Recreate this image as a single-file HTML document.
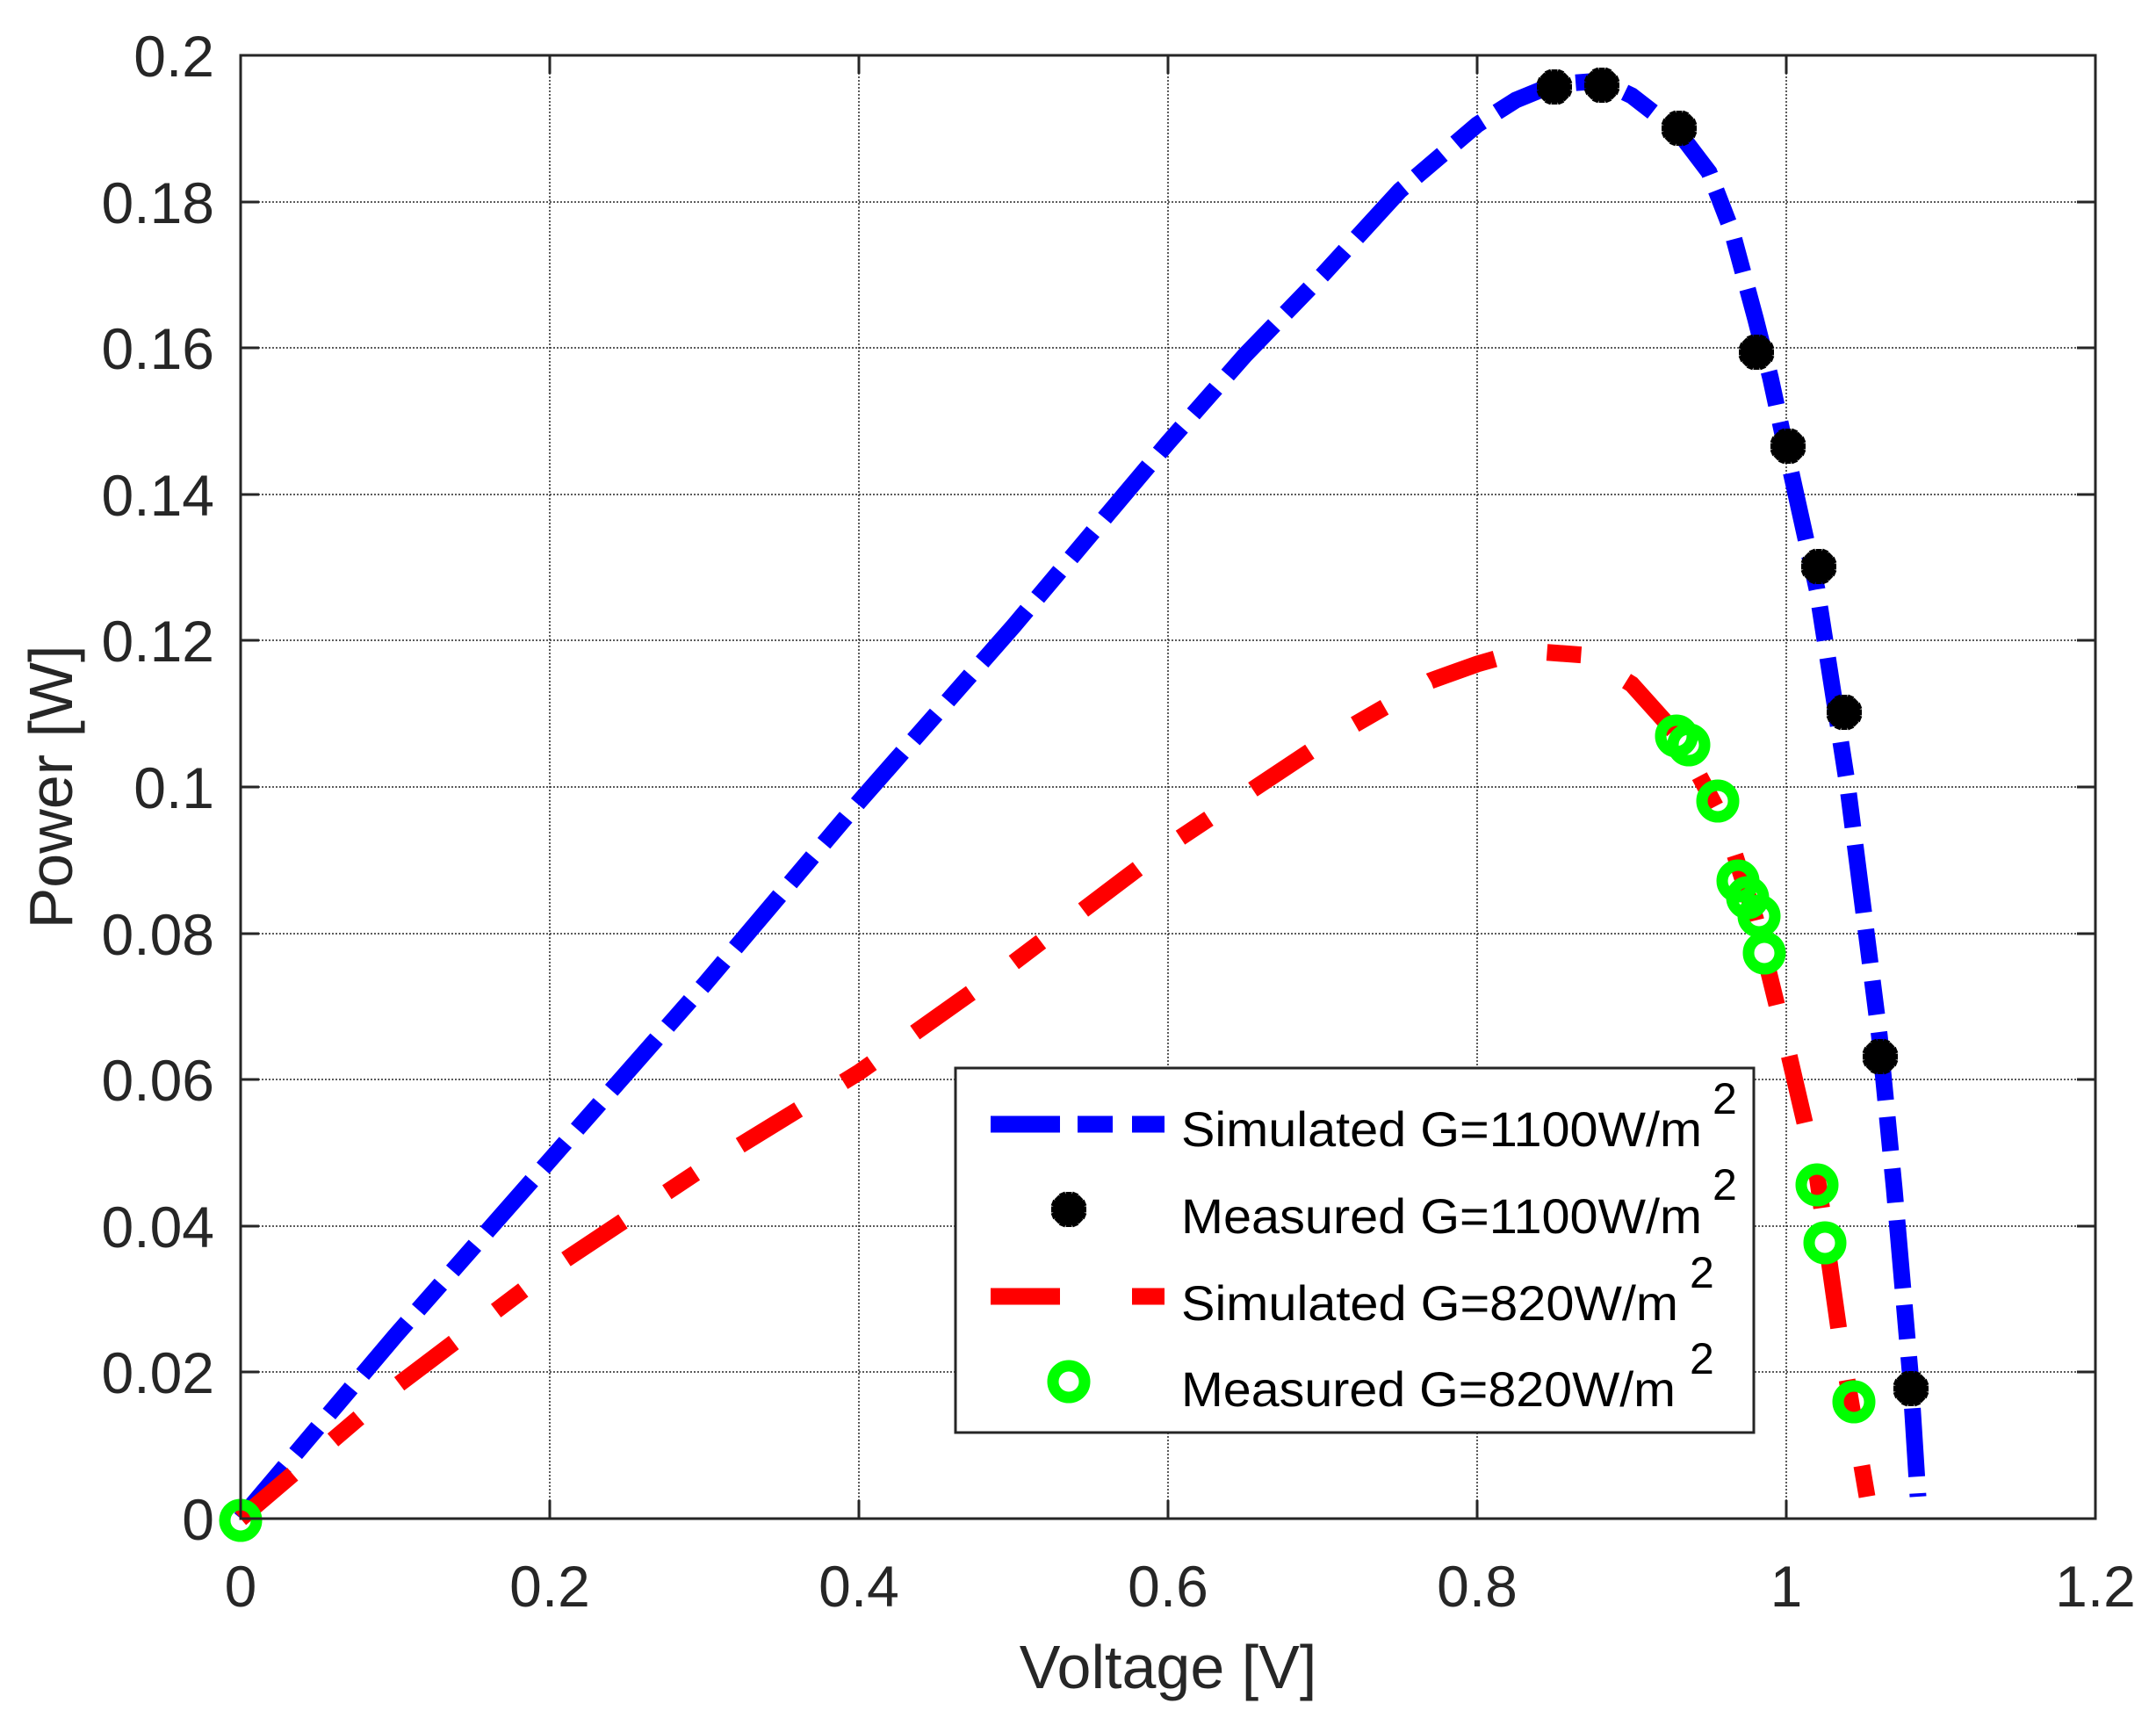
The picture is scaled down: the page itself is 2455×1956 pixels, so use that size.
<!DOCTYPE html>
<html><head><meta charset="utf-8"><style>
html,body{margin:0;padding:0;background:#fff}
svg{display:block}
text{font-family:"Liberation Sans",Arial,sans-serif;fill:#262626}
</style></head><body>
<svg width="2455" height="1956" viewBox="0 0 2455 1956" xmlns="http://www.w3.org/2000/svg">
<defs>
<g id="ast"><path d="M0,-20V20M-20,0H20M-14,-14L14,14M-14,14L14,-14M-8,-19L8,19M8,-19L-8,19M-19,-8L19,8M-19,8L19,-8" stroke="#000" stroke-width="7"/><circle r="12" fill="#000"/></g>
<circle id="gc" r="18" fill="none" stroke="#00ff00" stroke-width="13"/>
</defs>
<rect x="274" y="63" width="2112" height="1666" fill="#fff"/>
<g stroke="#262626" stroke-width="1.5" stroke-dasharray="2 2">
<path d="M626,63V1729M978,63V1729M1330,63V1729M1682,63V1729M2034,63V1729"/>
<path d="M274,230H2386M274,396H2386M274,563H2386M274,729H2386M274,896H2386M274,1063H2386M274,1229H2386M274,1396H2386M274,1562H2386"/>
</g>
<polyline fill="none" stroke="#0000ff" stroke-width="19" stroke-dasharray="78 19 39 20 39 20" points="274,1729 450,1521 626,1321 802,1121 978,913 1154,713 1330,504 1418,404 1506,313 1594,217 1682,142 1726,114 1770,96 1823,92 1858,109 1911,150 1946,196 1972,263 1999,363 2016,430 2034,513 2069,671 2104,896 2140,1179 2157,1354 2175,1562 2184,1704"/>
<polyline fill="none" stroke="#ff0000" stroke-width="19" stroke-dasharray="78 60 39 60" points="274,1729 450,1579 626,1446 802,1329 978,1221 1154,1096 1330,963 1506,846 1629,775 1682,756 1717,746 1752,742 1805,746 1858,779 1911,838 1964,938 1999,1046 2034,1188 2069,1338 2096,1529 2126,1704"/>
<use href="#ast" x="1770" y="99"/><use href="#ast" x="1824" y="97"/><use href="#ast" x="1912" y="146"/><use href="#ast" x="2000" y="401"/><use href="#ast" x="2036" y="508"/><use href="#ast" x="2071" y="645"/><use href="#ast" x="2100" y="811"/><use href="#ast" x="2141" y="1203"/><use href="#ast" x="2176" y="1581"/>
<use href="#gc" x="274" y="1731"/><use href="#gc" x="1909" y="838"/><use href="#gc" x="1923" y="848"/><use href="#gc" x="1956" y="912"/><use href="#gc" x="1979" y="1003"/><use href="#gc" x="1990" y="1022"/><use href="#gc" x="2003" y="1043"/><use href="#gc" x="2009" y="1085"/><use href="#gc" x="2069" y="1349"/><use href="#gc" x="2078" y="1415"/><use href="#gc" x="2111" y="1596"/>
<rect x="274" y="63" width="2112" height="1666" fill="none" stroke="#262626" stroke-width="3"/>
<g stroke="#262626" stroke-width="3">
<path d="M626,1729v-21M978,1729v-21M1330,1729v-21M1682,1729v-21M2034,1729v-21M626,63v21M978,63v21M1330,63v21M1682,63v21M2034,63v21"/>
<path d="M274,230h21M274,396h21M274,563h21M274,729h21M274,896h21M274,1063h21M274,1229h21M274,1396h21M274,1562h21M2386,230h-21M2386,396h-21M2386,563h-21M2386,729h-21M2386,896h-21M2386,1063h-21M2386,1229h-21M2386,1396h-21M2386,1562h-21"/>
</g>
<g font-size="66" text-anchor="middle">
<text x="274" y="1829">0</text><text x="626" y="1829">0.2</text><text x="978" y="1829">0.4</text><text x="1330" y="1829">0.6</text><text x="1682" y="1829">0.8</text><text x="2034" y="1829">1</text><text x="2386" y="1829">1.2</text>
</g>
<g font-size="66" text-anchor="end">
<text x="244" y="1753">0</text><text x="244" y="1586">0.02</text><text x="244" y="1420">0.04</text><text x="244" y="1253">0.06</text><text x="244" y="1087">0.08</text><text x="244" y="920">0.1</text><text x="244" y="753">0.12</text><text x="244" y="587">0.14</text><text x="244" y="420">0.16</text><text x="244" y="254">0.18</text><text x="244" y="87">0.2</text>
</g>
<text x="1330" y="1922" font-size="70" text-anchor="middle">Voltage [V]</text>
<text transform="translate(82,896) rotate(-90)" font-size="70" text-anchor="middle">Power [W]</text>
<rect x="1088" y="1216" width="909" height="415" fill="#fff" stroke="#262626" stroke-width="3"/>
<path d="M1128,1280h79M1227,1280h40M1289,1280h37" stroke="#0000ff" stroke-width="19"/>
<use href="#ast" x="1217" y="1377"/>
<path d="M1128,1476h79M1289,1476h37" stroke="#ff0000" stroke-width="19"/>
<use href="#gc" x="1217" y="1573"/>
<g font-size="56">
<text x="1345" y="1305" textLength="593" lengthAdjust="spacingAndGlyphs" style="fill:#000">Simulated G=1100W/m</text><text x="1950" y="1268" font-size="50" style="fill:#000">2</text>
<text x="1345" y="1404" textLength="593" lengthAdjust="spacingAndGlyphs" style="fill:#000">Measured G=1100W/m</text><text x="1950" y="1366" font-size="50" style="fill:#000">2</text>
<text x="1345" y="1503" textLength="566" lengthAdjust="spacingAndGlyphs" style="fill:#000">Simulated G=820W/m</text><text x="1924" y="1466" font-size="50" style="fill:#000">2</text>
<text x="1345" y="1601" textLength="563" lengthAdjust="spacingAndGlyphs" style="fill:#000">Measured G=820W/m</text><text x="1924" y="1564" font-size="50" style="fill:#000">2</text>
</g>
</svg>
</body></html>
